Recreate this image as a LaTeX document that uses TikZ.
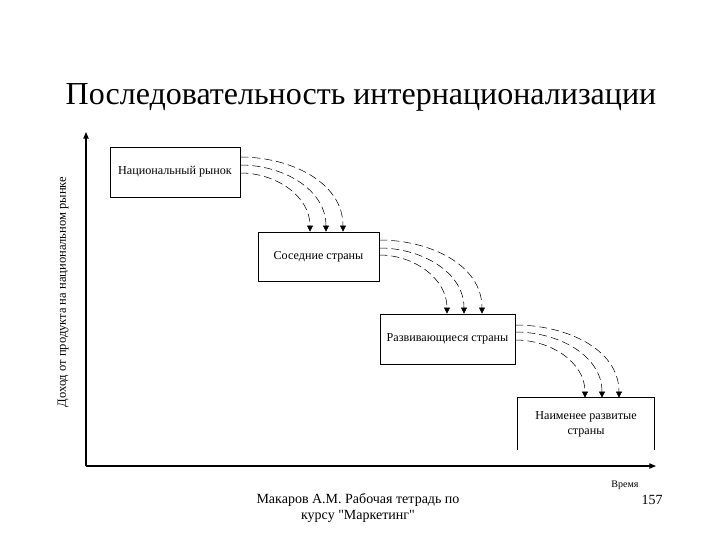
\documentclass[tikz,border=0pt]{standalone}
\usepackage{fontspec}
\setmainfont{Liberation Serif}
\newfontfamily\plainserif{Liberation Serif}
\usetikzlibrary{arrows.meta,calc}

\begin{document}
\begin{tikzpicture}[x=0.75pt, y=-0.75pt,
        stage/.style={draw, semithick, align=center, font=\fontsize{9.1}{11.5}\selectfont},
        flow/.style={-{Triangle[length=4.5pt,width=4.5pt]}, dash pattern=on 6pt off 3pt},
        axis/.style={-{Triangle[length=5pt,width=4pt]}, thick}
    ]
    \useasboundingbox (0,0) rectangle (720,540);

    % ---- Title ----
    \node[font=\fontsize{24}{28}\selectfont] (title) at (361,97) {Последовательность интернационализации};

    % ---- Axes ----
    \coordinate (origin) at (86,466);
    \coordinate (ytop) at (86,132);
    \coordinate (xend) at (656,466);
    \draw[axis] (origin) -- (ytop);
    \draw[axis] (origin) -- (xend);
    \node[rotate=90, font=\fontsize{9.4}{11}\selectfont] (ylabel) at (63,292) {Доход от продукта на национальном рынке};
    \node[font=\fontsize{7.5}{9}\selectfont] (xlabel) at (625,485) {Время};

    % ---- Stages ----
    \node[stage, minimum width=97.5pt, minimum height=37.5pt] (market) at (175,172) {Национальный рынок};
    \node[stage, minimum width=90.75pt, minimum height=36.75pt] (neighbours) at (318.5,256.5) {Соседние страны};
    \node[stage, minimum width=101.25pt, minimum height=37.5pt] (developing) at (447.5,339) {Развивающиеся страны};
    \node[stage, draw=none, minimum width=102pt, minimum height=39pt] (leastdev) at (586,424) {Наименее развитые\\страны};
    % open at the bottom
    \draw[semithick] (leastdev.south west) |- (leastdev.north east) -- (leastdev.south east);

    % Arrows: market -> neighbours
    \draw[flow] ($(market.east)+(0,-15)$) to[out=0,in=90] ($(neighbours.north)+(24.5,0)$);
    \draw[flow] ($(market.east)+(0,-7)$) to[out=0,in=90] ($(neighbours.north)+(7.5,0)$);
    \draw[flow] ($(market.east)+(0,1)$) to[out=0,in=90] ($(neighbours.north)+(-8.5,0)$);

    % Arrows: neighbours -> developing
    \draw[flow] ($(neighbours.east)+(0,-16.5)$) to[out=0,in=90] ($(developing.north)+(34.5,0)$);
    \draw[flow] ($(neighbours.east)+(0,-8.5)$) to[out=0,in=90] ($(developing.north)+(16.5,0)$);
    \draw[flow] ($(neighbours.east)+(0,-1.5)$) to[out=0,in=90] ($(developing.north)+(-0.5,0)$);

    % Arrows: developing -> least developed
    \draw[flow] ($(developing.east)+(0,-14)$) to[out=0,in=90] ($(leastdev.north)+(33,0)$);
    \draw[flow] ($(developing.east)+(0,-7)$) to[out=0,in=90] ($(leastdev.north)+(16,0)$);
    \draw[flow] ($(developing.east)+(0,1)$) to[out=0,in=90] ($(leastdev.north)+(-1,0)$);

    % ---- Footer ----
    \node[align=center, font=\plainserif\fontsize{10.5}{11.5}\selectfont] (source) at (358,508) {Макаров А.М. Рабочая тетрадь по\\курсу "Маркетинг"};
    \node[font=\fontsize{10.5}{12}\selectfont] (page) at (652,500) {157};

\end{tikzpicture}
\end{document}
